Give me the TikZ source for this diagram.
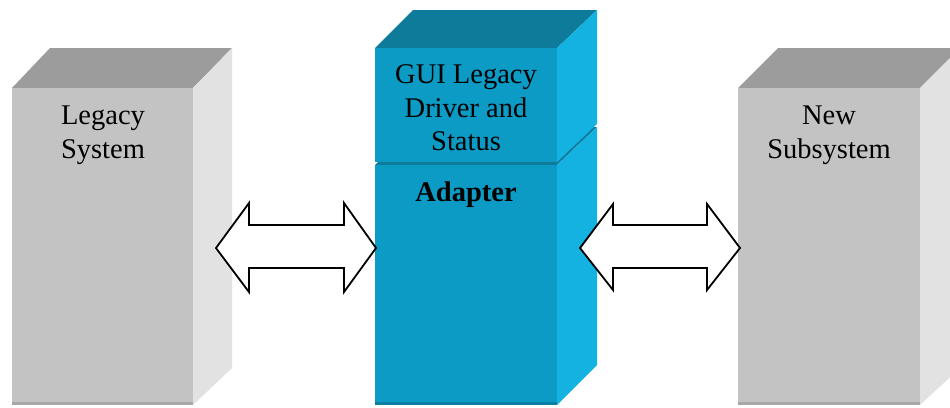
\documentclass[tikz,border=0pt]{standalone}
\usepackage{fontspec}
\setmainfont{Liberation Serif}
\begin{document}
\begin{tikzpicture}[x=1pt,y=-1pt,
  graytop/.style={fill=gtop},
  grayfront/.style={fill=gfront},
  grayside/.style={fill=gside},
  bluetop/.style={fill=btop},
  bluefront/.style={fill=bfront},
  blueside/.style={fill=bside},
  label/.style={font=\fontsize{28.5}{33.5}\selectfont, align=center, text=black, inner sep=0pt},
  dblarrow/.style={draw=black, fill=white, line width=1.8pt, line join=miter}
]
\definecolor{gtop}{HTML}{9C9C9C}
\definecolor{gfront}{HTML}{C3C3C3}
\definecolor{gside}{HTML}{E2E2E2}
\definecolor{gedge}{HTML}{A8A8A8}
\definecolor{btop}{HTML}{0E7B9B}
\definecolor{bfront}{HTML}{0B9BC5}
\definecolor{bside}{HTML}{13B2E0}
\definecolor{bedge}{HTML}{0A7EA3}

\useasboundingbox (0,0) rectangle (950,407);
\fill[white] (0,0) rectangle (950,407);

% ---- left block: Legacy System
\fill[graytop] (12,88) -- (50,48) -- (232,48) -- (193,88) -- cycle;
\fill[grayside] (193,88) -- (232,48) -- (232,368) -- (193,405) -- cycle;
\fill[grayfront] (12,88) rectangle (193,405);
\fill[gedge] (12,402) rectangle (193,405);
\node[label] (legacy) at (103,135) {Legacy\\System};

% ---- right block: New Subsystem
\fill[graytop] (738,88) -- (778,48) -- (960,48) -- (920,88) -- cycle;
\fill[grayside] (920,88) -- (960,48) -- (960,368) -- (920,405) -- cycle;
\fill[grayfront] (738,88) rectangle (920,405);
\fill[gedge] (738,402) rectangle (920,405);
\node[label] (newsub) at (829,135) {New\\Subsystem};

% ---- centre stack: lower block (Adapter)
\fill[btop] (375,165) -- (413,127) -- (597,127) -- (557,165) -- cycle;
\fill[blueside] (557,165) -- (597,127) -- (597,365) -- (557,405) -- cycle;
\fill[bluefront] (375,165) rectangle (557,405);
\fill[bedge] (375,402) rectangle (557,405);
\node[label, font=\fontsize{28.5}{33.5}\selectfont\bfseries] (adapter) at (466,195) {Adapter};

% ---- centre stack: upper block (GUI Legacy Driver and Status)
\fill[bluetop] (375,48) -- (413,10) -- (597,10) -- (557,48) -- cycle;
\fill[blueside] (557,48) -- (597,10) -- (597,124) -- (557,162) -- cycle;
\fill[bluefront] (375,48) rectangle (557,162);
\node[label] (gui) at (466,108) {GUI Legacy\\Driver and\\Status};

% ---- double-headed block arrows
\draw[dblarrow] (216,248) -- (249,203) -- (249,225) -- (344,225) -- (344,203)
  -- (376,248) -- (344,292) -- (344,268) -- (249,268) -- (249,292) -- cycle;
\draw[dblarrow] (580,248) -- (613,204) -- (613,225) -- (707,225) -- (707,204)
  -- (740,248) -- (707,290) -- (707,268) -- (613,268) -- (613,290) -- cycle;
\end{tikzpicture}
\end{document}
